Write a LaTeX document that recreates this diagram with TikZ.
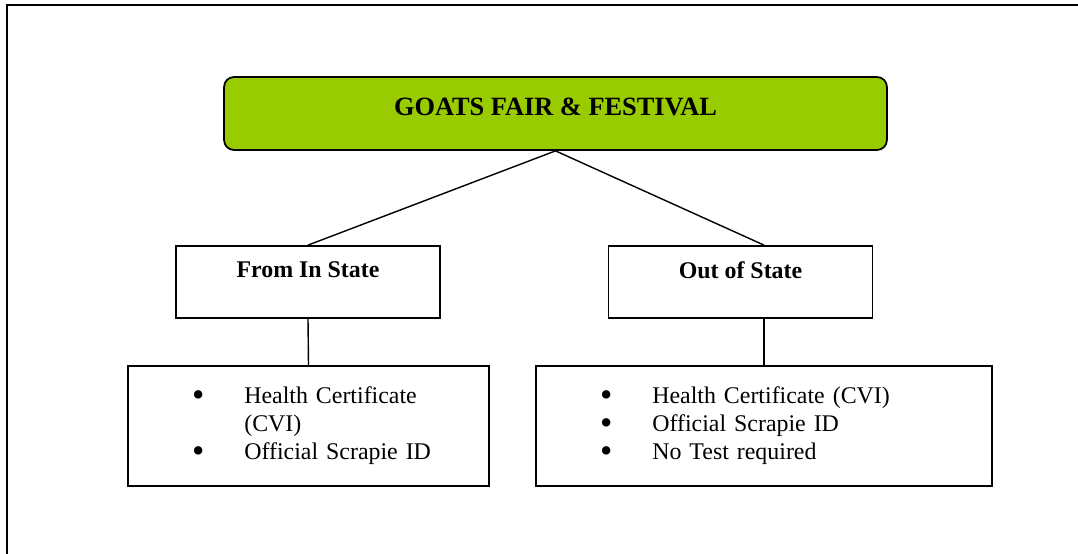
\documentclass[tikz,border=0pt]{standalone}
\usepackage{fontspec}
\setmainfont{Liberation Serif}
\usepackage{xcolor}
\definecolor{fairgreen}{HTML}{99CC00}
\newcommand{\bigbullet}{\raisebox{-0.12em}{\fontsize{20}{20}\selectfont\textbullet}}

\begin{document}
\begin{tikzpicture}[x=0.02cm, y=-0.02cm,
        header/.style={rectangle, draw, line width=1pt, rounded corners=0.2cm, fill=fairgreen, minimum width=13.26cm, minimum height=1.46cm, font=\fontsize{15}{17}\selectfont\bfseries, text height=10pt, text depth=8pt},
        origin/.style={rectangle, draw, line width=1pt, minimum width=5.28cm, minimum height=1.44cm, font=\fontsize{13.6}{16}\selectfont\bfseries, text depth=14pt},
        checklist/.style={rectangle, draw, line width=1pt, minimum height=2.4cm, inner xsep=0pt, align=left, font=\fontsize{13.6}{15.9}\selectfont},
        link/.style={line width=0.8pt}
    ]
        \useasboundingbox (0,0) rectangle (1078,554);
        \draw[line width=1pt] (7,554) -- (7,5) -- (1078,5);

        \node[header] (fair) at (555.5,113.5) {GOATS FAIR \& FESTIVAL};

        \node[origin] (instate) at (308,282) {From In State};
        \node[origin] (outstate) at (740.5,282) {Out of State};

        \node[checklist, text width=7.22cm] (inlist) at (308.5,426) {%
            \begin{tabular}{@{\hspace{1.28cm}}l@{\hspace{0.8cm}}l}
                \bigbullet & Health Certificate\\
                           & (CVI)\\
                \bigbullet & Official Scrapie ID
            \end{tabular}};
        \node[checklist, text width=9.12cm] (outlist) at (764,426) {%
            \begin{tabular}{@{\hspace{1.28cm}}l@{\hspace{0.8cm}}l}
                \bigbullet & Health Certificate (CVI)\\
                \bigbullet & Official Scrapie ID\\
                \bigbullet & No Test required
            \end{tabular}};

        \draw[link] (fair.south) -- (instate.north);
        \draw[link] (fair.south) -- (outstate.north -| outlist.north);
        \draw[link] (instate.south) -- (inlist.north);
        \draw[link] (outstate.south -| outlist.north) -- (outlist.north);
    \end{tikzpicture}
\end{document}
